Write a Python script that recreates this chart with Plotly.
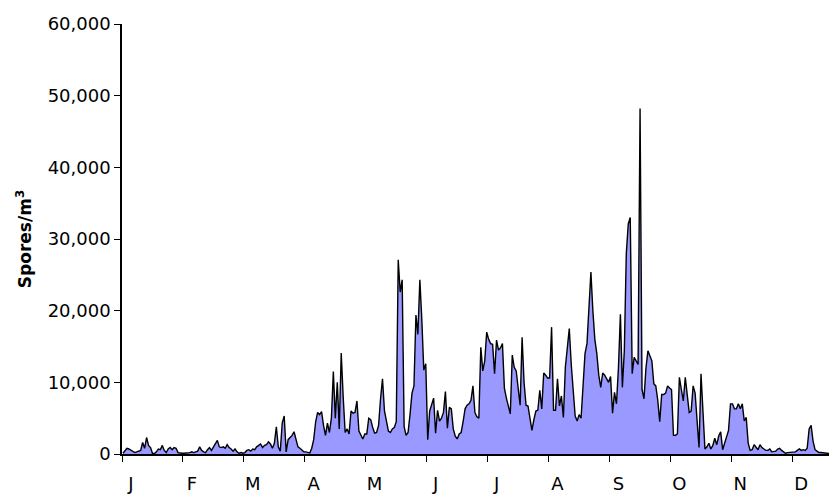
import plotly.graph_objects as go

# Daily spore counts, grouped in 31-day blocks (one block per month tick)
jan = [100, 400, 800, 700, 500, 300, 200, 300, 400, 500, 1600, 800, 2300, 1200, 900, 100,
       50, 300, 700, 600, 1200, 500, 200, 700, 900, 600, 900, 800, 200, 100, 100]
feb = [100, 100, 100, 200, 300, 200, 300, 400, 1000, 500, 300, 200, 600, 900, 500, 1000,
       1300, 1900, 1000, 900, 1000, 800, 1300, 900, 700, 400, 700, 300, 100, 200, 100]
mar = [200, 500, 600, 400, 700, 600, 1000, 1200, 1400, 900, 1200, 1300, 1700, 1400, 800, 1500,
       3800, 1000, 400, 4300, 5300, 300, 2000, 2300, 2600, 3100, 2000, 1000, 800, 500, 300]
apr = [300, 200, 150, 800, 2000, 4500, 5800, 5500, 5900, 4000, 2600, 4300, 3000, 5000, 11500, 5000,
       10000, 3500, 14100, 8000, 3000, 3500, 2800, 6000, 5700, 5800, 7400, 3200, 2600, 2100, 2800]
may = [2800, 5000, 4800, 3700, 2900, 3000, 4000, 7700, 10500, 6000, 4800, 3200, 3000, 3500, 3700, 4500,
       27100, 22600, 24300, 3800, 2600, 3000, 5500, 8500, 9500, 19400, 16700, 24300, 18700, 11700, 12600]
jun = [2000, 6000, 6800, 7800, 2900, 6100, 4600, 5000, 5800, 8700, 3600, 6500, 6300, 3500, 2500, 2100,
       2800, 3000, 4500, 6300, 6800, 7000, 7500, 9500, 5800, 5200, 5000, 14900, 11600, 13000, 17000]
jul = [16000, 15400, 15300, 11200, 15900, 14500, 14800, 15400, 9200, 7800, 6500, 5600, 13800, 12100, 11600, 9000,
       6800, 16300, 10000, 6800, 6700, 5000, 3300, 4800, 6000, 6100, 8900, 6300, 11300, 11000, 10600]
aug = [10600, 17700, 6100, 6100, 10500, 6700, 8100, 5100, 12100, 14500, 17500, 12500, 9000, 5300, 4600, 5500,
       5000, 10500, 14000, 15400, 20000, 25400, 20000, 16000, 14000, 11000, 9300, 11300, 11000, 10500, 10000]
sep = [10800, 5700, 8600, 7000, 12000, 19500, 9300, 14400, 28000, 32100, 33000, 11200, 13500, 13000, 12500, 48200,
       9000, 7700, 12000, 14400, 13600, 13000, 9800, 9500, 7500, 4500, 8300, 8300, 8500, 9500, 9200]
oct_ = [9000, 2600, 2600, 2800, 10700, 9000, 7400, 10700, 8000, 5800, 6000, 9500, 8500, 5000, 900, 11200,
        5500, 700, 1000, 1500, 700, 1200, 2200, 1300, 2500, 3100, 600, 1500, 2200, 3300, 7000]
nov = [7000, 6300, 6300, 7000, 6300, 7000, 4600, 5100, 1500, 500, 600, 1300, 1000, 600, 1300, 900,
       700, 500, 500, 700, 300, 300, 400, 700, 800, 500, 300, 100, 200, 200, 200]
dec = [200, 300, 500, 700, 500, 600, 500, 800, 3500, 4000, 1800, 600, 400, 200, 200, 150,
       100, 100, 50, 50, 50, 50, 50, 50]

month_labels = ["J", "F", "M", "A", "M", "J", "J", "A", "S", "O", "N", "D"]
block_len = 31

spores = jan + feb + mar + apr + may + jun + jul + aug + sep + oct_ + nov + dec
days = [i + 0.5 for i in range(len(spores))]

fig = go.Figure()
fig.add_trace(go.Scatter(
    x=days, y=spores, mode="lines", fill="tozeroy",
    fillcolor="#9999ff", line=dict(color="black", width=1.4),
    hoverinfo="skip", showlegend=False,
))

font_family = "DejaVu Sans, Verdana, sans-serif"

fig.update_layout(
    width=830, height=494,
    margin=dict(l=122, r=1, t=24, b=40),
    paper_bgcolor="white", plot_bgcolor="white",
    font=dict(family=font_family, size=18, color="black"),
    xaxis=dict(
        range=[0, 359.6],
        automargin=False,
        tickmode="array",
        tickvals=[k * block_len + 4.5 for k in range(12)],
        ticktext=month_labels,
        ticks="", showgrid=False, zeroline=False,
        showline=True, linecolor="black", linewidth=1.5,
        tickfont=dict(size=18),
        minor=dict(ticks="outside", tickmode="linear", tick0=0, dtick=block_len,
                   ticklen=6, tickcolor="black", tickwidth=1, showgrid=False),
        ticklabelstandoff=13,
    ),
    yaxis=dict(
        range=[0, 60000], tickmode="linear", tick0=0, dtick=10000,
        automargin=False,
        tickformat=",", ticks="outside", ticklen=6, tickcolor="black",
        showgrid=False, zeroline=False,
        showline=True, linecolor="black", linewidth=1.5,
        tickfont=dict(size=18),
        title=dict(text="<b>Spores/m<sup>3</sup></b>", font=dict(size=17), standoff=12),
    ),
)

fig.write_html("out.html")
